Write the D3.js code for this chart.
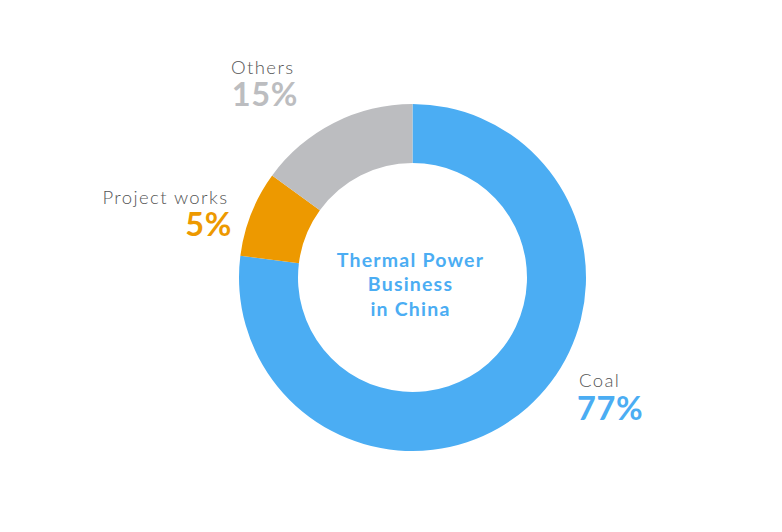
<!DOCTYPE html>
<html>
<head>
<meta charset="utf-8">
<script src="https://cdn.jsdelivr.net/npm/d3@7"></script>
<style>
  html, body { margin: 0; padding: 0; background: #ffffff; }
  svg { display: block; }
</style>
</head>
<body>
<svg id="chart" width="782" height="532"></svg>
<script>
const categories = ["Coal", "Project works", "Others"];
const values = [77, 8, 15];
const valueLabels = ["77%", "5%", "15%"];
const colors = ["#4badf3", "#ed9900", "#bcbdc0"];
const centerTitle = ["Thermal Power", "Business", "in China"];

const svg = d3.select("#chart");
const cx = 412.5, cy = 277.5;
const outerR = 173.5, innerR = 114.5;

const pie = d3.pie().sort(null).value(d => d.value).startAngle(0).endAngle(2 * Math.PI);
const arc = d3.arc().innerRadius(innerR).outerRadius(outerR);

const data = categories.map((c, i) => ({ name: c, value: values[i], label: valueLabels[i], color: colors[i] }));

const g = svg.append("g").attr("transform", `translate(${cx},${cy})`);
g.selectAll("path")
  .data(pie(data))
  .join("path")
  .attr("d", arc)
  .attr("fill", d => d.data.color);

const labelLayout = {
  "Coal": { xName: 579, xPct: 577, yName: 386.5, yPct: 420, anchor: "start" },
  "Project works": { xName: 228.5, xPct: 232, yName: 203.5, yPct: 236, anchor: "end" },
  "Others": { xName: 294.5, xPct: 298, yName: 73.5, yPct: 106, anchor: "end" }
};

const font = "Lato, 'Open Sans', sans-serif";

const lbl = svg.append("g");
data.forEach(d => {
  const L = labelLayout[d.name];
  lbl.append("text")
    .attr("x", L.xName)
    .attr("y", L.yName)
    .attr("text-anchor", L.anchor)
    .attr("font-family", font)
    .attr("font-weight", 300)
    .attr("font-size", 18.5)
    .attr("letter-spacing", 1.4)
    .attr("fill", "#555555")
    .text(d.name);
  lbl.append("text")
    .attr("x", L.xPct)
    .attr("y", L.yPct)
    .attr("text-anchor", L.anchor)
    .attr("font-family", font)
    .attr("font-weight", 700)
    .attr("font-size", 32.5)
    .attr("letter-spacing", 0.6)
    .attr("fill", d.color)
    .text(d.label);
});

const ct = svg.append("g");
centerTitle.forEach((t, i) => {
  ct.append("text")
    .attr("x", 410.5)
    .attr("y", 266.5 + i * 24.5)
    .attr("text-anchor", "middle")
    .attr("font-family", font)
    .attr("font-weight", 700)
    .attr("font-size", 19.5)
    .attr("letter-spacing", 1.2)
    .attr("fill", "#4badf3")
    .text(t);
});
</script>
</body>
</html>
